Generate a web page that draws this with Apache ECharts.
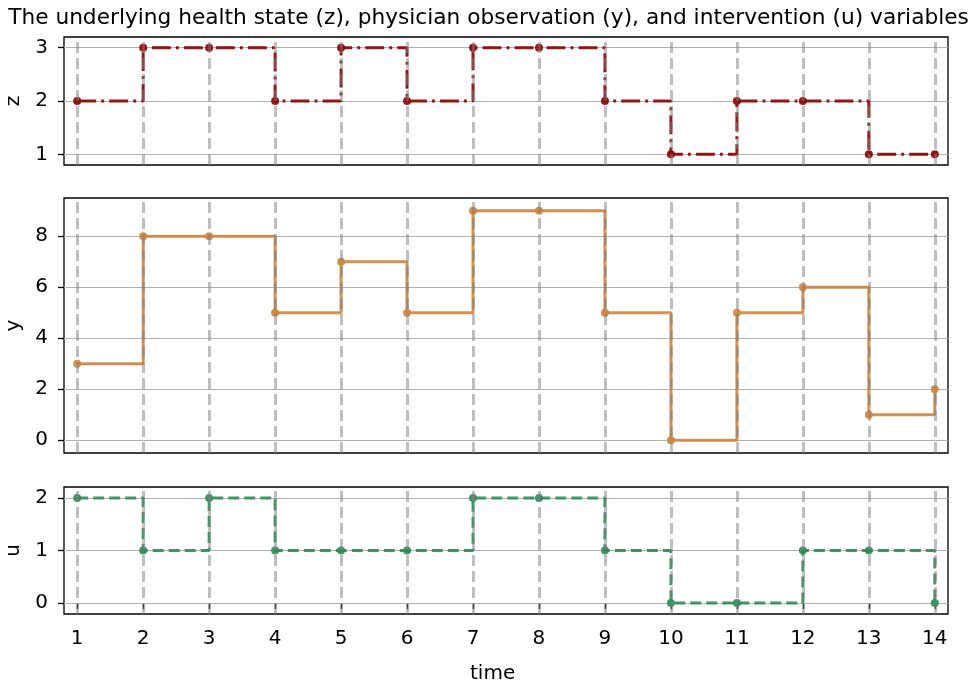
<!DOCTYPE html>
<html>
<head>
<meta charset="utf-8">
<script src="https://cdn.jsdelivr.net/npm/echarts@6/dist/echarts.min.js"></script>
<style>
  html, body { margin: 0; padding: 0; background: #fff; }
  #chart { width: 977px; height: 689px; }
</style>
</head>
<body>
<div id="chart"></div>
<script>
// Time steps and the three recorded variables
const time = [1, 2, 3, 4, 5, 6, 7, 8, 9, 10, 11, 12, 13, 14];
const healthState = [2, 3, 3, 2, 3, 2, 3, 3, 2, 1, 2, 2, 1, 1];      // z
const observation = [3, 8, 8, 5, 7, 5, 9, 9, 5, 0, 5, 6, 1, 2];      // y
const intervention = [2, 1, 2, 1, 1, 1, 2, 2, 1, 0, 0, 1, 1, 0];     // u

// Tick labels for each panel's vertical axis
const zTicks = [1, 2, 3];
const yTicks = [0, 2, 4, 6, 8];
const uTicks = [0, 1, 2];

const FONT = 'DejaVu Sans';

// Panel layout and styling
const panels = [
  { label: 'z', values: healthState, ticks: zTicks, min: 0.8, max: 3.2,
    top: 37, height: 128, color: '#8b0000', dash: [19, 5, 3, 5] },
  { label: 'y', values: observation, ticks: yTicks, min: -0.5, max: 9.5,
    top: 198, height: 255, color: '#cd853f', dash: 'solid' },
  { label: 'u', values: intervention, ticks: uTicks, min: -0.21, max: 2.21,
    top: 487, height: 127, color: '#2e8b57', dash: [11, 5] }
];

const grids = [], xAxes = [], yAxes = [], series = [];

panels.forEach((p, i) => {
  const isLast = i === panels.length - 1;
  grids.push({
    left: 64, width: 884, top: p.top, height: p.height,
    show: true, borderColor: '#000', borderWidth: 1.3,
    backgroundColor: 'transparent', containLabel: false,
    outerBoundsMode: 'none'
  });
  xAxes.push({
    type: 'value', gridIndex: i, min: 0.8, max: 14.2,
    axisLine: { show: false },
    splitLine: { show: false },
    axisTick: {
      show: isLast, customValues: time, length: 6,
      lineStyle: { color: '#000', width: 1.3 }
    },
    axisLabel: {
      show: isLast, customValues: time, margin: 15,
      fontFamily: FONT, fontSize: 20, color: '#000'
    }
  });
  yAxes.push({
    type: 'value', gridIndex: i, min: p.min, max: p.max,
    name: p.label, nameLocation: 'middle', nameGap: 40, nameRotate: 90,
    nameTextStyle: { fontFamily: FONT, fontSize: 20, color: '#000' },
    axisLine: { show: false },
    splitLine: { show: false },
    axisTick: {
      show: true, customValues: p.ticks, length: 6,
      lineStyle: { color: '#000', width: 1.3 }
    },
    axisLabel: {
      customValues: p.ticks, margin: 16,
      fontFamily: FONT, fontSize: 20, color: '#000'
    }
  });

  // horizontal grid lines at the tick values, kept beneath the data
  series.push({
    type: 'line', xAxisIndex: i, yAxisIndex: i, data: [], z: 1, silent: true,
    markLine: {
      z: 1, silent: true, symbol: ['none', 'none'], animation: false,
      label: { show: false },
      lineStyle: { color: '#b0b0b0', width: 1.2, type: 'solid' },
      data: p.ticks.map(v => ({ yAxis: v }))
    }
  });

  // the variable itself, held constant until the next time step
  series.push({
    type: 'line', xAxisIndex: i, yAxisIndex: i, z: 3,
    step: 'end',
    data: time.map((t, k) => [t, p.values[k]]),
    symbol: 'circle', symbolSize: 8,
    showSymbol: true,
    lineStyle: { color: p.color, width: 3, type: p.dash, opacity: 0.9 },
    itemStyle: { color: p.color, opacity: 0.9 }
  });

  // dashed vertical markers at each time step, drawn over the data
  series.push({
    type: 'line', xAxisIndex: i, yAxisIndex: i, data: [], z: 6, silent: true,
    markLine: {
      z: 6, silent: true, symbol: ['none', 'none'], animation: false,
      label: { show: false },
      lineStyle: { color: 'rgba(128,128,128,0.5)', width: 3, type: [11, 5] },
      data: time.map(t => ({ xAxis: t }))
    }
  });
});

const chart = echarts.init(document.getElementById('chart'), null, { renderer: 'canvas' });
chart.setOption({
  animation: false,
  backgroundColor: '#fff',
  title: [
    {
      text: 'The underlying health state (z), physician observation (y), and intervention (u) variables',
      left: 'center', top: 7, padding: 0,
      textStyle: { fontFamily: FONT, fontSize: 21.7, fontWeight: 'normal', color: '#000' }
    },
    {
      text: 'time', left: 470, top: 664, padding: 0,
      textStyle: { fontFamily: FONT, fontSize: 20, fontWeight: 'normal', color: '#000' }
    }
  ],
  grid: grids,
  xAxis: xAxes,
  yAxis: yAxes,
  series: series
});
</script>
</body>
</html>
